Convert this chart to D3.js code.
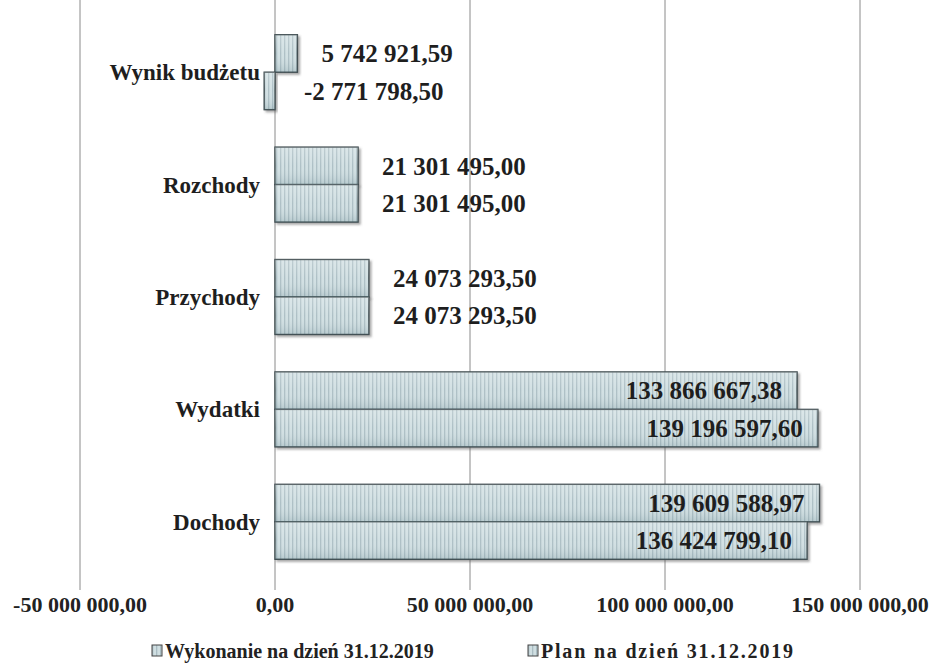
<!DOCTYPE html>
<html><head><meta charset="utf-8">
<script src="https://cdn.jsdelivr.net/npm/d3@7/dist/d3.min.js"></script>
<style>body{margin:0;background:#fff}svg{display:block}</style>
</head><body>
<svg id="chart" width="933" height="663"></svg>
<script>
const categories = ["Wynik budżetu", "Rozchody", "Przychody", "Wydatki", "Dochody"];
const seriesNames = ["Wykonanie na dzień 31.12.2019", "Plan na dzień 31.12.2019"];
const wykonanie = [5742921.59, 21301495.00, 24073293.50, 133866667.38, 139609588.97];
const plan = [-2771798.50, 21301495.00, 24073293.50, 139196597.60, 136424799.10];
const tickValues = [-50000000, 0, 50000000, 100000000, 150000000];

const loc = d3.formatLocale({decimal: ",", thousands: "\u00a0", grouping: [3], currency: ["", ""], minus: "-"});
const fmt = loc.format(",.2f");

const svg = d3.select("#chart");
const FAM = '"Liberation Serif"';
function serif(sel, size) {
  return sel.style("font-family", FAM).style("font-weight", "bold").style("font-size", size + "px");
}

const x = d3.scaleLinear().domain([-50000000, 150000000]).range([80, 860]);
const y = d3.scaleBand().domain(categories).range([16, 578]).paddingInner(1/3).paddingOuter(1/6);
const ySub = d3.scaleBand().domain([0, 1]).range([0, y.bandwidth()]);

const defs = svg.append("defs");
const pat = defs.append("pattern").attr("id", "stripes").attr("patternUnits", "userSpaceOnUse")
  .attr("width", 4).attr("height", 10);
pat.append("rect").attr("width", 4).attr("height", 10).attr("fill", "#d0dfe2");
pat.append("rect").attr("x", 0).attr("width", 1.3).attr("height", 10).attr("fill", "#aabdc3");
const grad = defs.append("linearGradient").attr("id", "shade").attr("x1", 0).attr("x2", 0).attr("y1", 0).attr("y2", 1);
grad.append("stop").attr("offset", "0%").attr("stop-color", "#ffffff").attr("stop-opacity", 0.25);
grad.append("stop").attr("offset", "50%").attr("stop-color", "#ffffff").attr("stop-opacity", 0.05);
grad.append("stop").attr("offset", "100%").attr("stop-color", "#6a8890").attr("stop-opacity", 0.25);
const flt = defs.append("filter").attr("id", "shadow").attr("x", "-10%").attr("y", "-20%").attr("width", "130%").attr("height", "160%");
flt.append("feDropShadow").attr("dx", 2).attr("dy", 2).attr("stdDeviation", 1.2).attr("flood-color", "#555").attr("flood-opacity", 0.5);

// gridlines
svg.append("g").selectAll("line").data(tickValues).join("line")
  .attr("x1", d => x(d)).attr("x2", d => x(d)).attr("y1", 0).attr("y2", 590)
  .attr("stroke", "#8a8a8a").attr("stroke-width", 1);

// axis labels
serif(svg.append("g").selectAll("text").data(tickValues).join("text")
  .attr("x", d => x(d)).attr("y", 612).attr("text-anchor", "middle")
  .attr("fill", "#222")
  .text(d => fmt(d)), 22);

const rows = [];
categories.forEach((c, i) => {
  rows.push({cat: c, s: 0, v: wykonanie[i]});
  rows.push({cat: c, s: 1, v: plan[i]});
});

const bars = svg.append("g");
bars.selectAll("rect.bar").data(rows).join("rect").attr("class", "bar")
  .attr("x", d => x(Math.min(0, d.v)))
  .attr("y", d => y(d.cat) + ySub(d.s))
  .attr("width", d => Math.abs(x(d.v) - x(0)))
  .attr("height", ySub.bandwidth())
  .attr("fill", "url(#stripes)")
  .attr("stroke", "#3c4a4e").attr("stroke-width", 1.4)
  .attr("filter", "url(#shadow)");
bars.selectAll("rect.shade").data(rows).join("rect").attr("class", "shade")
  .attr("x", d => x(Math.min(0, d.v)))
  .attr("y", d => y(d.cat) + ySub(d.s))
  .attr("width", d => Math.abs(x(d.v) - x(0)))
  .attr("height", ySub.bandwidth())
  .attr("fill", "url(#shade)");

// value labels
serif(svg.append("g").selectAll("text").data(rows).join("text")
  .attr("x", d => d.v > 50000000 ? x(d.v) - 15 : x(Math.max(0, d.v)) + (d.v < 0 ? 29 : 24))
  .attr("y", d => y(d.cat) + ySub(d.s) + ySub.bandwidth() / 2)
  .attr("dy", "0.35em")
  .attr("text-anchor", d => d.v > 50000000 ? "end" : "start")
  .attr("fill", "#1e1e1e")
  .text(d => fmt(d.v)), 25);

// category labels
serif(svg.append("g").selectAll("text").data(categories).join("text")
  .attr("x", 260).attr("y", c => y(c) + y.bandwidth() / 2).attr("dy", "0.35em")
  .attr("text-anchor", "end")
  .attr("fill", "#1e1e1e")
  .text(c => c), 23);

// legend
const legX = [152, 528];
const leg = svg.append("g").selectAll("g").data(seriesNames).join("g")
  .attr("transform", (d, i) => `translate(${legX[i]},658)`);
leg.append("rect").attr("x", 0).attr("y", -13).attr("width", 10).attr("height", 11)
  .attr("fill", "url(#stripes)").attr("stroke", "#444").attr("stroke-width", 1);
serif(leg.append("text").attr("x", 13).attr("y", 0)
  .attr("fill", "#222")
  .style("letter-spacing", (d, i) => i === 1 ? "1.8px" : "0px")
  .text(d => d), 20);
</script>
</body></html>
